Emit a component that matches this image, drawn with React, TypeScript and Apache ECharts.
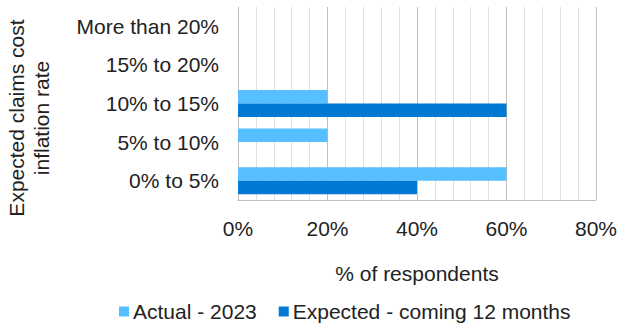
import React, { useEffect, useRef } from "react";
import * as echarts from "echarts";

const categories = ["0% to 5%", "5% to 10%", "10% to 15%", "15% to 20%", "More than 20%"];
const actual2023 = [60, 20, 20, 0, 0];
const expected12m = [40, 0, 60, 0, 0];
const seriesNames = ["Actual - 2023", "Expected - coming 12 months"];
const xTicks = [0, 20, 40, 60, 80];

const FONT = "'Liberation Sans', Arial, sans-serif";
const FS = 21;

export default function App() {
  const ref = useRef<HTMLDivElement>(null);
  useEffect(() => {
    if (!ref.current) return;
    const chart = echarts.init(ref.current, undefined, { renderer: "svg" });
    chart.setOption({
      animation: false,
      textStyle: { fontFamily: FONT },
      grid: { left: 238, right: 22, top: 7, bottom: 129, containLabel: false },
      legend: {
        data: seriesNames,
        bottom: 2,
        left: 114,
        itemWidth: 10,
        itemHeight: 10,
        itemGap: 22,
        icon: "rect",
        textStyle: { fontSize: FS, color: "#222", fontFamily: FONT, padding: [0, 0, 0, -1] },
      },
      xAxis: {
        type: "value",
        min: xTicks[0],
        max: xTicks[xTicks.length - 1],
        interval: 20,
        name: "% of respondents",
        nameLocation: "middle",
        nameGap: 63,
        nameTextStyle: { fontSize: FS, color: "#222", fontFamily: FONT },
        axisLabel: { formatter: "{value}%", fontSize: FS, color: "#222", margin: 18, fontFamily: FONT },
        axisLine: { show: true, lineStyle: { color: "#c0c0c0" } },
        axisTick: { show: false },
        splitLine: { show: true, lineStyle: { color: "#bfbfbf", width: 1 } },
        minorTick: { show: false, splitNumber: 5 },
        minorSplitLine: { show: true, lineStyle: { color: "#e0e0e0", width: 1 } },
      },
      yAxis: {
        type: "category",
        data: categories,
        axisLine: { show: true, lineStyle: { color: "#c0c0c0" } },
        axisTick: { show: false },
        axisLabel: { fontSize: FS, color: "#222", margin: 19, fontFamily: FONT },
        splitLine: { show: false },
      },
      graphic: [
        {
          type: "text",
          x: 29,
          y: 118,
          rotation: Math.PI / 2,
          style: {
            text: "Expected claims cost\ninflation rate",
            font: `${FS}px ${FONT}`,
            fill: "#222",
            align: "center",
            verticalAlign: "middle",
            lineHeight: 25,
          },
        },
      ],
      series: [
        {
          name: seriesNames[0],
          type: "bar",
          data: actual2023,
          barGap: "0%",
          barCategoryGap: "30%",
          itemStyle: { color: "#55bfff" },
        },
        {
          name: seriesNames[1],
          type: "bar",
          data: expected12m,
          barGap: "0%",
          barCategoryGap: "30%",
          itemStyle: { color: "#0078d4" },
        },
      ],
    });
    return () => chart.dispose();
  }, []);
  return <div ref={ref} style={{ width: 620, height: 329, position: "absolute", left: 0, top: 0 }} />;
}
